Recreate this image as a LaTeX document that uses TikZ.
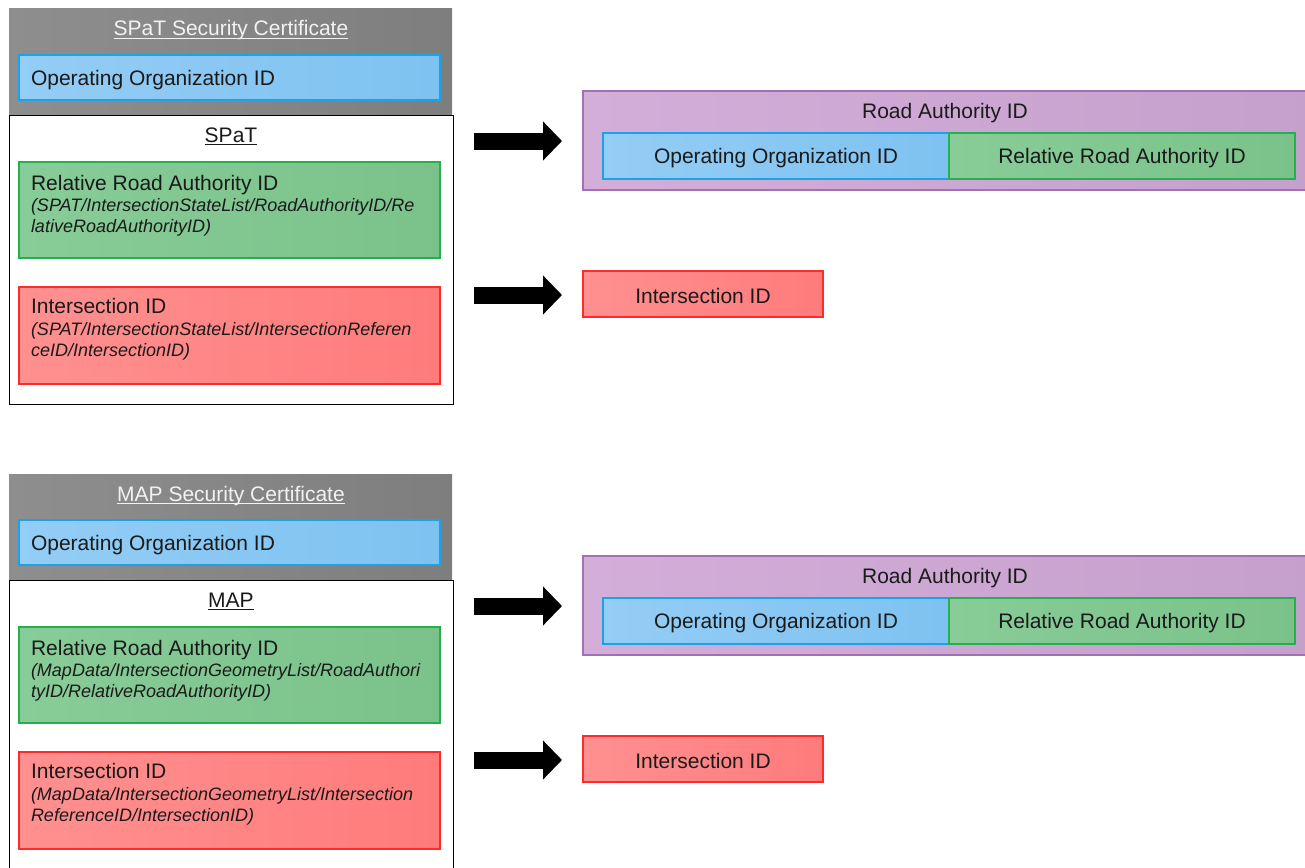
\documentclass[tikz,border=0pt]{standalone}
\usepackage{fontspec}
\setmainfont{Liberation Sans}
\usetikzlibrary{arrows.meta}

\definecolor{certL}{HTML}{8E8E8E}
\definecolor{certR}{HTML}{7E7E7E}
\definecolor{bluL}{HTML}{94CDF5}
\definecolor{bluR}{HTML}{7EC2F1}
\definecolor{bluD}{HTML}{1CA2E8}
\definecolor{grnL}{HTML}{88CC98}
\definecolor{grnR}{HTML}{7BC28A}
\definecolor{grnD}{HTML}{24B04E}
\definecolor{redL}{HTML}{FF9090}
\definecolor{redR}{HTML}{FF7B7B}
\definecolor{redD}{HTML}{FF2A2A}
\definecolor{purL}{HTML}{D2AED9}
\definecolor{purR}{HTML}{C6A0CC}
\definecolor{purD}{HTML}{A470B4}
\definecolor{ink}{HTML}{1A1A1A}
\definecolor{certTxt}{HTML}{F2F2F2}

\tikzset{
  box/.style={anchor=north west, inner sep=0pt, outer sep=0pt},
  certbox/.style={box, left color=certL, right color=certR},
  msgbox/.style={box, fill=white, draw=black, line width=1pt},
  bluebox/.style={box, left color=bluL, right color=bluR, draw=bluD, line width=1.5pt},
  greenbox/.style={box, left color=grnL, right color=grnR, draw=grnD, line width=1.5pt},
  redbox/.style={box, left color=redL, right color=redR, draw=redD, line width=1.5pt},
  purplebox/.style={box, left color=purL, right color=purR, draw=purD, line width=1.5pt},
  lbl/.style={inner sep=0pt, outer sep=0pt, text=ink, font=\fontsize{21}{25}\selectfont},
  path/.style={inner sep=0pt, outer sep=0pt, text=ink, font=\fontsize{18}{21}\selectfont\itshape},
  fatarrow/.style={line width=17pt, -{Triangle[length=19pt,width=38pt]}},
}

\begin{document}
\begin{tikzpicture}[x=1pt, y=-1pt]
\useasboundingbox (0,0) rectangle (1305,867);
\fill[white] (0,0) rectangle (1305,867);
\begin{scope}
\clip (0,0) rectangle (1305,867);

% ---------------- SPaT message ----------------
\node[certbox, minimum width=443pt, minimum height=106pt] (certA) at (9,9) {};
\node[lbl, text=certTxt, anchor=base] (certAt) at (231,36) {SPaT Security Certificate};
\draw[certTxt, line width=0.9pt] ([yshift=-2.5pt]certAt.base west) -- ([yshift=-2.5pt]certAt.base east);
\node[bluebox, minimum width=421pt, minimum height=45pt] (opA) at (19,55) {};
\node[lbl, anchor=base west] (opAt) at (31,85) {Operating Organization ID};

\node[msgbox, minimum width=444pt, minimum height=289pt] (msgA) at (9,115) {};
\node[lbl, anchor=base] (msgAt) at (231,142) {SPaT};
\draw[ink, line width=0.9pt] ([yshift=-2.5pt]msgAt.base west) -- ([yshift=-2.5pt]msgAt.base east);

\node[greenbox, minimum width=421pt, minimum height=96pt] (relA) at (19,162) {};
\node[lbl, anchor=base west] (relAt) at (31,190) {Relative Road Authority ID};
\node[path, anchor=base west] (relAp1) at (31,211) {(SPAT/IntersectionStateList/RoadAuthorityID/Re};
\node[path, anchor=base west] (relAp2) at (31,232) {lativeRoadAuthorityID)};

\node[redbox, minimum width=421pt, minimum height=97pt] (intA) at (19,287) {};
\node[lbl, anchor=base west] (intAt) at (31,313) {Intersection ID};
\node[path, anchor=base west] (intAp1) at (31,335) {(SPAT/IntersectionStateList/IntersectionReferen};
\node[path, anchor=base west] (intAp2) at (31,356) {ceID/IntersectionID)};

\coordinate (arA1s) at (474,141);
\coordinate (arA1e) at (562,141);
\draw[fatarrow] (arA1s) -- (arA1e);
\coordinate (arA2s) at (474,295);
\coordinate (arA2e) at (562,295);
\draw[fatarrow] (arA2s) -- (arA2e);

\node[purplebox, minimum width=740pt, minimum height=99pt] (raA) at (583,91) {};
\node[lbl, anchor=base] (raAt) at (945,118) {Road Authority ID};
\node[bluebox, minimum width=346pt, minimum height=46pt] (raAop) at (603,133) {};
\node[lbl, anchor=base] (raAopt) at (776,163) {Operating Organization ID};
\node[greenbox, minimum width=346pt, minimum height=46pt] (raArel) at (949,133) {};
\node[lbl, anchor=base] (raArelt) at (1122,163) {Relative Road Authority ID};

\node[redbox, minimum width=240pt, minimum height=46pt] (rIntA) at (583,271) {};
\node[lbl, anchor=base] (rIntAt) at (703,303) {Intersection ID};

% ---------------- MAP message ----------------
\node[certbox, minimum width=443pt, minimum height=106pt] (certB) at (9,474) {};
\node[lbl, text=certTxt, anchor=base] (certBt) at (231,501) {MAP Security Certificate};
\draw[certTxt, line width=0.9pt] ([yshift=-2.5pt]certBt.base west) -- ([yshift=-2.5pt]certBt.base east);
\node[bluebox, minimum width=421pt, minimum height=45pt] (opB) at (19,520) {};
\node[lbl, anchor=base west] (opBt) at (31,550) {Operating Organization ID};

\node[msgbox, minimum width=444pt, minimum height=289pt] (msgB) at (9,580) {};
\node[lbl, anchor=base] (msgBt) at (231,607) {MAP};
\draw[ink, line width=0.9pt] ([yshift=-2.5pt]msgBt.base west) -- ([yshift=-2.5pt]msgBt.base east);

\node[greenbox, minimum width=421pt, minimum height=96pt] (relB) at (19,627) {};
\node[lbl, anchor=base west] (relBt) at (31,655) {Relative Road Authority ID};
\node[path, anchor=base west] (relBp1) at (31,676) {(MapData/IntersectionGeometryList/RoadAuthori};
\node[path, anchor=base west] (relBp2) at (31,697) {tyID/RelativeRoadAuthorityID)};

\node[redbox, minimum width=421pt, minimum height=97pt] (intB) at (19,752) {};
\node[lbl, anchor=base west] (intBt) at (31,778) {Intersection ID};
\node[path, anchor=base west] (intBp1) at (31,800) {(MapData/IntersectionGeometryList/Intersection};
\node[path, anchor=base west] (intBp2) at (31,821) {ReferenceID/IntersectionID)};

\coordinate (arB1s) at (474,606);
\coordinate (arB1e) at (562,606);
\draw[fatarrow] (arB1s) -- (arB1e);
\coordinate (arB2s) at (474,760);
\coordinate (arB2e) at (562,760);
\draw[fatarrow] (arB2s) -- (arB2e);

\node[purplebox, minimum width=740pt, minimum height=99pt] (raB) at (583,556) {};
\node[lbl, anchor=base] (raBt) at (945,583) {Road Authority ID};
\node[bluebox, minimum width=346pt, minimum height=46pt] (raBop) at (603,598) {};
\node[lbl, anchor=base] (raBopt) at (776,628) {Operating Organization ID};
\node[greenbox, minimum width=346pt, minimum height=46pt] (raBrel) at (949,598) {};
\node[lbl, anchor=base] (raBrelt) at (1122,628) {Relative Road Authority ID};

\node[redbox, minimum width=240pt, minimum height=46pt] (rIntB) at (583,736) {};
\node[lbl, anchor=base] (rIntBt) at (703,768) {Intersection ID};
\end{scope}
\end{tikzpicture}
\end{document}
